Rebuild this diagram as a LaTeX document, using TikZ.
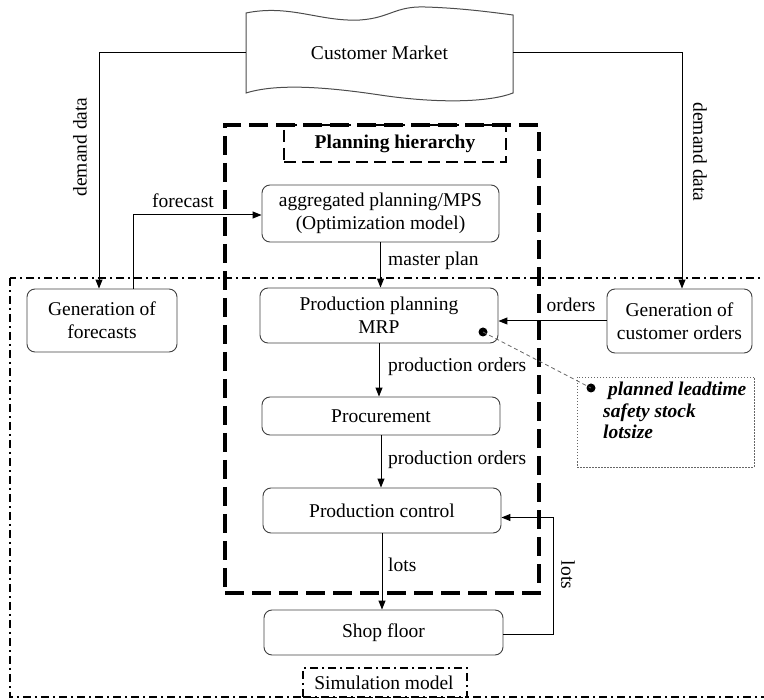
\documentclass[tikz,border=0pt]{standalone}
\usepackage{fontspec}
\setmainfont{Liberation Serif}
\usetikzlibrary{arrows.meta}
\begin{document}
\begin{tikzpicture}[x=1pt,y=-1pt,
  font=\fontsize{19.5}{23}\selectfont,
  box/.style={draw=black!75, line width=0.9pt, rounded corners=8pt, align=center, inner sep=0pt},
  arr/.style={line width=1pt, -{Triangle[length=9pt,width=7pt]}},
  lbl/.style={inner sep=1pt},
  dashdot/.style={line width=1.1pt, dash pattern=on 8pt off 4pt on 2pt off 4pt}]
\useasboundingbox (0,0) rectangle (764,700);

% simulation model frame
\draw[dashdot] (10,278) rectangle (800,697);
\node[dashdot, draw, fill=white, minimum width=164pt, minimum height=29pt, inner sep=0pt] (sim) at (385,682.5) {};
\node[lbl] (simtxt) at (384,683) {Simulation model};

% customer market
\draw[line width=1pt, black!70] (246,13) .. controls (290,4) and (320,22) .. (360,20) .. controls (390,18) and (395,6) .. (425,7) .. controls (460,8) and (490,12) .. (513,15) -- (513,93) .. controls (490,102) and (440,104) .. (380,95) .. controls (320,86) and (275,84) .. (246,93) -- cycle;
\node[minimum width=267pt, minimum height=60pt, inner sep=0pt] (cm) at (379.5,53) {Customer Market};

% planning hierarchy frames
\node[draw, line width=3.2pt, dash pattern=on 19pt off 8pt, minimum width=314pt, minimum height=468pt, inner sep=0pt] (phbox) at (382,359) {};
\node[draw, line width=2.5pt, dash pattern=on 12pt off 6pt, minimum width=222pt, minimum height=37pt, inner sep=0pt, font=\fontsize{19.5}{23}\selectfont\bfseries] (ph) at (395,143.5) {Planning hierarchy};

% boxes
\node[box, minimum width=237pt, minimum height=57pt] (agg) at (380.5,213.5) {aggregated planning/MPS\\(Optimization model)};
\node[box, minimum width=238pt, minimum height=55pt] (mrp) at (379,315.5) {Production planning\\MRP};
\node[box, minimum width=238pt, minimum height=38pt] (proc) at (381,416) {Procurement};
\node[box, minimum width=238pt, minimum height=45pt] (pc) at (382,510.5) {Production control};
\node[box, minimum width=239pt, minimum height=45pt] (sf) at (383.5,632.5) {Shop floor};
\node[box, minimum width=150pt, minimum height=63pt] (gf) at (102,320.5) {Generation of\\forecasts};
\node[box, minimum width=145pt, minimum height=64pt] (gco) at (679.5,321) {Generation of\\customer orders};

% note
\node[draw=black!60, line width=0.8pt, dash pattern=on 1.5pt off 1.5pt, minimum width=177pt, minimum height=90pt, inner sep=0pt] (note) at (665.5,422) {};
\node[anchor=north west, align=left, inner sep=0pt, font=\fontsize{19.5}{21.5}\selectfont\bfseries\itshape] (notetxt) at (603,382) {\hspace{5pt}planned leadtime\\safety stock\\lotsize};
\fill (591,388) circle (4.5pt) coordinate (nd2);
\fill (483,332) circle (4.5pt) coordinate (nd1);
\draw[black!60, line width=0.8pt, dash pattern=on 4pt off 3pt] (nd1) -- (nd2);

% connectors
\draw[arr] (cm.west) -| ([xshift=-3pt]gf.north);
\draw[arr] (cm.east) -| ([xshift=2.5pt]gco.north);
\draw[arr] ([xshift=31pt]gf.north) |- ([yshift=-1.5pt]agg.west);
\draw[arr] (agg.south) -- (agg.south |- mrp.north);
\draw[arr] (gco.west) -- (gco.west -| mrp.east);
\draw[arr] (mrp.south) -- (mrp.south |- proc.north);
\draw[arr] (proc.south) -- (proc.south |- pc.north);
\draw[arr] (pc.south) -- (pc.south |- sf.north);
\draw[arr] ([yshift=-2pt]sf.east) -- ++(50pt,0) |- ([yshift=-7pt]pc.east);

% labels
\node[lbl, rotate=90] (dd1) at (80,147) {demand data};
\node[lbl, rotate=-90] (dd2) at (700,152) {demand data};
\node[lbl] (fc) at (183,201) {forecast};
\node[lbl, anchor=west] (mp) at (387,261) {master plan};
\node[lbl] (ord) at (571,305) {orders};
\node[lbl, anchor=west] (po1) at (387,367) {production orders};
\node[lbl, anchor=west] (po2) at (387,460) {production orders};
\node[lbl, anchor=west] (lt1) at (387,565) {lots};
\node[lbl, rotate=-90] (lt2) at (568,575) {lots};
\end{tikzpicture}
\end{document}
